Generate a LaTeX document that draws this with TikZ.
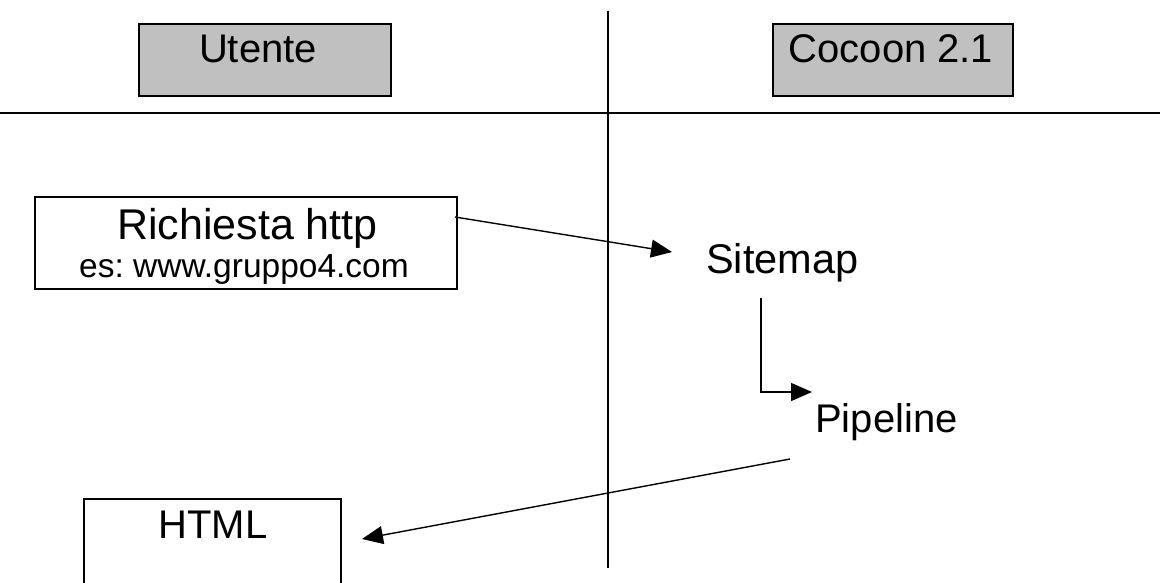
\documentclass[tikz,border=0pt]{standalone}
\usepackage{fontspec}
\setmainfont{Liberation Sans}
\usetikzlibrary{arrows.meta}
\definecolor{boxgray}{HTML}{C0C0C0}
\frenchspacing
\tikzset{
  lanebox/.style={draw, line width=1.4pt, fill=boxgray, inner sep=0pt},
  plainbox/.style={draw, line width=1.4pt, fill=white, inner sep=0pt},
  bigtxt/.style={font=\fontsize{40}{48}\selectfont, inner sep=0pt, anchor=base},
  reqfont/.style={font=\fontsize{43}{50}\selectfont, inner sep=0pt, anchor=base},
  smalltxt/.style={font=\fontsize{33.5}{40}\selectfont, inner sep=0pt, anchor=base},
  rule/.style={line width=1.4pt},
  conn/.style={line width=1.4pt, -{Triangle[length=21pt,width=18pt]}},
}
\begin{document}
\begin{tikzpicture}[x=1pt,y=-1pt]
\useasboundingbox (0,0) rectangle (1160,583);
\clip (0,0) rectangle (1160,583);
% swimlane rules
\coordinate (hl) at (0,113);
\coordinate (hr) at (1160,113);
\coordinate (vt) at (608,11);
\coordinate (vb) at (608,568);
\draw[rule] (hl) -- (hr);
\draw[rule] (vt) -- (vb);
% header boxes
\node[lanebox, minimum width=252pt, minimum height=72pt] (utente) at (265,60) {};
\node[bigtxt] (utentetxt) at (258,63) {Utente};
\node[lanebox, minimum width=240pt, minimum height=72pt] (cocoon) at (893,60) {};
\node[bigtxt] (cocoontxt) at (891,63) {Cocoon 2.1};
% request box
\node[plainbox, minimum width=422pt, minimum height=92pt] (req) at (246,243) {};
\node[reqfont] (reqtxt) at (247.5,240) {Richiesta http};
\node[smalltxt] (reqsub) at (244,277) {es: www.gruppo4.com};
% html box
\node[plainbox, minimum width=257pt, minimum height=120pt] (html) at (212.5,559) {};
\node[bigtxt] (htmltxt) at (213,538) {HTML};
% free texts
\node[bigtxt, font=\fontsize{41.5}{48}\selectfont, anchor=base west] (sitemap) at (706,273) {Sitemap};
\node[bigtxt, anchor=base west] (pipeline) at (815,432) {Pipeline};
% connector end points
\coordinate (a1s) at (455,217);
\coordinate (a1e) at (672,252);
\coordinate (a2s) at (761,298);
\coordinate (a2m) at (761,392);
\coordinate (a2e) at (812,392);
\coordinate (a3s) at (790,459);
\coordinate (a3e) at (362,539);
\draw[conn] (a1s) -- (a1e);
\draw[conn] (a2s) -- (a2m) -- (a2e);
\draw[conn] (a3s) -- (a3e);
\end{tikzpicture}
\end{document}
